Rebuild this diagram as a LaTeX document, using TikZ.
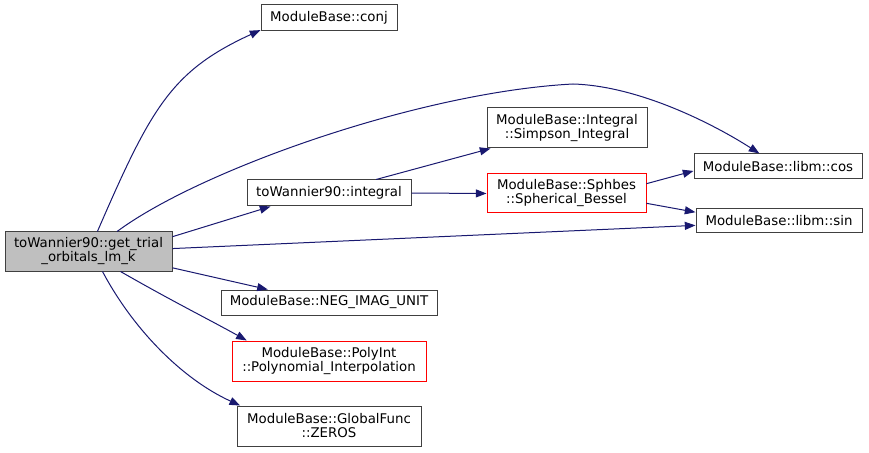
\documentclass[tikz,border=0pt]{standalone}
\usepackage{fontspec}
\setmainfont{DejaVu Sans}
\usetikzlibrary{arrows.meta}
\definecolor{midnight}{HTML}{191970}
\tikzstyle{fn}=[
    draw=black!75,line width=0.75pt,fill=white,inner sep=0pt,
    align=center,font=\fontsize{10}{10.5}\selectfont
    ]
\tikzstyle{fnred}=[fn,draw=red]
\tikzstyle{fnmain}=[fn,fill=black!25]
\tikzstyle{call}=[
    draw=midnight,line width=0.75pt,
    -{Triangle[length=8pt,width=6pt]}
    ]
\begin{document}
\begin{tikzpicture}[x=0.75pt,y=-0.75pt]
\useasboundingbox (0,0) rectangle (869,453);
%caller
\node[fnmain,minimum width=167*0.75pt,minimum height=39*0.75pt] (main) at (88.5,251.5) {toWannier90::get\_trial\\\_orbitals\_lm\_k};
%callees
\node[fn,minimum width=136*0.75pt,minimum height=26*0.75pt] (conj) at (329,18) {ModuleBase::conj};
\node[fn,minimum width=164*0.75pt,minimum height=26*0.75pt] (integral) at (329,193) {toWannier90::integral};
\node[fn,minimum width=160*0.75pt,minimum height=40*0.75pt] (simpson) at (567,128) {ModuleBase::Integral\\::Simpson\_Integral};
\node[fnred,minimum width=159*0.75pt,minimum height=39*0.75pt] (sphbes) at (566.5,193.5) {ModuleBase::Sphbes\\::Spherical\_Bessel};
\node[fn,minimum width=168*0.75pt,minimum height=25*0.75pt] (cos) at (778,166.5) {ModuleBase::libm::cos};
\node[fn,minimum width=166*0.75pt,minimum height=24*0.75pt] (sin) at (779,221) {ModuleBase::libm::sin};
\node[fn,minimum width=216*0.75pt,minimum height=25*0.75pt] (neg) at (329,302.5) {ModuleBase::NEG\_IMAG\_UNIT};
\node[fnred,minimum width=194*0.75pt,minimum height=40*0.75pt] (polyint) at (329,361) {ModuleBase::PolyInt\\::Polynomial\_Interpolation};
\node[fn,minimum width=184*0.75pt,minimum height=40*0.75pt] (zeros) at (329,426) {ModuleBase::GlobalFunc\\::ZEROS};
%calls from the caller
\draw[call] (main.66) .. controls (151,108) and (171,71) .. (conj.190);
\coordinate (top) at (573,84);
\draw[call] (main.35) .. controls (200,170) and (420,92) .. (top)
    .. controls (640,86) and (715,125) .. (cos.145);
\draw[call] (main.10) -- (integral.193);
\draw[call] (main.2) -- (sin.183);
\draw[call] (main.-11) -- (neg.168);
\draw[call] (main.-32) .. controls (170,300) and (210,320) .. (polyint.166);
\draw[call] (main.-55) .. controls (133,329) and (182,379) .. (zeros.167);
%calls further down
\draw[call] (integral.16) -- (simpson.195);
\draw[call] (integral.east) -- (sphbes.west);
\draw[call] (sphbes.7.5) -- (cos.183);
\draw[call] (sphbes.-7.5) -- (sin.174.5);
\end{tikzpicture}
\end{document}
